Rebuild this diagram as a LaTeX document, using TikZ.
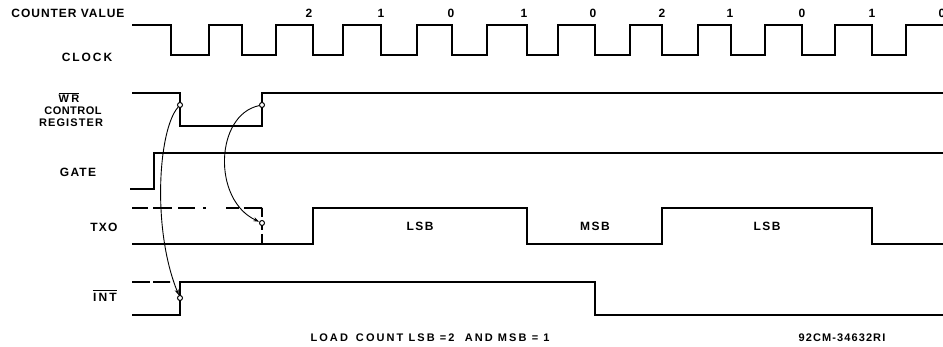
\documentclass[tikz,border=0pt]{standalone}
\usepackage{fontspec}
\setmainfont{Liberation Sans}
\usetikzlibrary{arrows.meta}
\begin{document}
\begin{tikzpicture}[x=1pt,y=-1pt,
  sig/.style={line width=1.8pt, line join=miter},
  cur/.style={line width=0.9pt, -{Stealth[length=6pt,width=4pt]}},
  ring/.style={circle, draw, line width=1pt, fill=white, inner sep=0pt, minimum size=5pt},
  lbl/.style={font=\bfseries\fontsize{12}{14}\selectfont, inner sep=0pt},
  slbl/.style={font=\bfseries\fontsize{11}{13}\selectfont, inner sep=0pt},
  bar/.style={line width=0.9pt}
]
\useasboundingbox (0,0) rectangle (943,347);

% ---- labels on the left
\node[lbl] (cv) at (68,13) {\addfontfeature{LetterSpace=8}COUNTER VALUE};
\node[lbl] (clk) at (87,57) {\addfontfeature{LetterSpace=16}CLOCK};
\node[slbl] (wr) at (69,99) {\addfontfeature{LetterSpace=20}WR};
\draw[bar] ([yshift=2pt]wr.north west) -- ([yshift=2pt]wr.north east);
\node[slbl] (ctl) at (73,111) {\addfontfeature{LetterSpace=4}CONTROL};
\node[slbl] (reg) at (71,123) {\addfontfeature{LetterSpace=10}REGISTER};
\node[lbl] (gate) at (78,172) {\addfontfeature{LetterSpace=10}GATE};
\node[lbl] (txo) at (104,227) {\addfontfeature{LetterSpace=10}TXO};
\node[lbl] (int) at (105,297) {\addfontfeature{LetterSpace=18}INT};
\draw[bar] ([yshift=2pt]int.north west) -- ([yshift=2pt]int.north east);

% ---- counter values
\foreach \v/\x [count=\i] in {2/309,1/381,0/451,1/524,0/593,2/662,1/730,0/802,1/872,0/942}
  \node[lbl] (cnt\i) at (\x,13) {\v};

% ---- clock
\draw[sig] (132,25) -| (171,55) -| (209,25) -| (242,55) -| (276,25) -| (313,55)
  -| (343,25) -| (381,55) -| (417,25) -| (452,55) -| (487,25) -| (527,55)
  -| (558,25) -| (595,55) -| (630,25) -| (662,55) -| (698,25) -| (731,55)
  -| (765,25) -| (802,55) -| (835,25) -| (872,55) -| (906,25) -- (943,25);

% ---- WR control register
\draw[sig] (132,93) -| (180,126) -| (262,93) -- (943,93);

% ---- gate
\draw[sig] (130,189) -| (154,153) -- (943,153);

% ---- TXO
\draw[sig] (132,244) -| (313,208) -| (527,244) -| (662,208) -| (872,244) -- (943,244);
\draw[sig, dash pattern=on 16pt off 5pt on 19pt off 6pt on 17pt off 8pt on 3pt off 20pt on 13pt off 5pt on 18pt off 0pt]
  (132,208) -- (262,208);
\draw[sig, line width=1.4pt, dash pattern=on 9pt off 4pt] (262,208) -- (262,244);
\node[lbl] (lsb1) at (420,226) {\addfontfeature{LetterSpace=12}LSB};
\node[lbl] (msb) at (595,226) {\addfontfeature{LetterSpace=12}MSB};
\node[lbl] (lsb2) at (767,226) {\addfontfeature{LetterSpace=12}LSB};

% ---- INT
\draw[sig] (132,315) -| (180,282) -| (595,315) -- (943,315);
\draw[sig, dash pattern=on 18pt off 3pt on 17pt off 0pt] (132,282) -- (170,282);

% ---- event circles and arrows
\node[ring] (w1) at (180,105) {};
\node[ring] (w2) at (262,105) {};
\node[ring] (t1) at (262,223) {};
\node[ring] (i1) at (180,298) {};
\draw[cur] (w1) .. controls (158,130) and (152,230) .. (i1);
\draw[cur] (w2) .. controls (215,115) and (212,200) .. (t1);

% ---- captions
\node[slbl] (load) at (430,338) {\addfontfeature{LetterSpace=19}LOAD\hspace{8pt}COUNT LSB =2 \ AND MSB = 1};
\node[slbl] (fig) at (842,338) {\addfontfeature{LetterSpace=10}92CM-34632RI};
\end{tikzpicture}
\end{document}
